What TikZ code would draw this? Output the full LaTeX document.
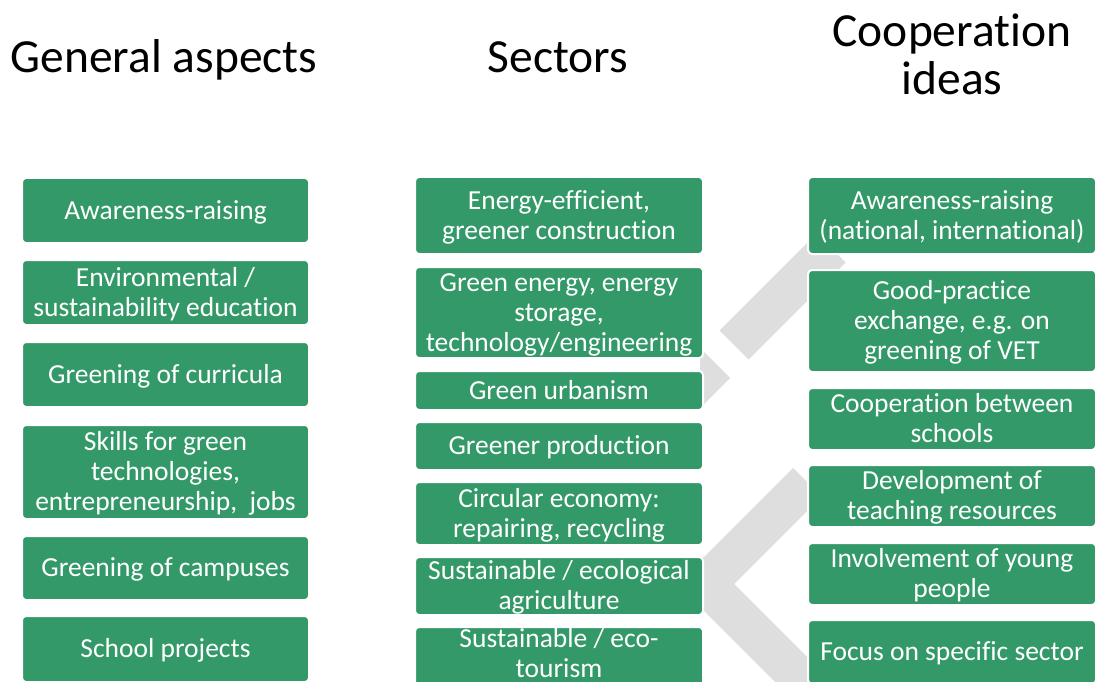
\documentclass[tikz,border=0pt]{standalone}
\usepackage{fontspec}
\setmainfont[Ligatures=NoCommon]{Carlito}
\definecolor{boxgreen}{RGB}{52,153,104}
\definecolor{chev}{RGB}{222,222,222}
\newcommand\tS{\rule{0pt}{0.8em}}
\newcommand\bS{\rule[-0.34em]{0pt}{0.34em}}
\newcommand\bx[1]{\tS#1\bS}
\tikzset{
  box/.style={fill=boxgreen, draw=white, line width=2pt, rounded corners=4pt, inner sep=0pt},
  lcol/.style={box, minimum width=287pt},
  mcol/.style={box, minimum width=288pt},
  rcol/.style={box, minimum width=288pt},
  txt/.style={text=white, align=center, inner sep=0pt, yshift=-2.5pt, font=\fontsize{27.5pt}{30pt}\selectfont},
  heading/.style={text=black, align=center, inner sep=0pt, font=\fontsize{47.5pt}{48pt}\selectfont},
  chevshape/.style={fill=chev}
}
\begin{document}
\begin{tikzpicture}[x=1pt,y=-1pt]
\useasboundingbox (0,0) rectangle (1096,682);
\clip (0,0) rectangle (1096,682);
\fill[white] (0,0) rectangle (1096,682);

% background chevrons
\fill[chevshape] (719.5,330.5) -- (748.5,359.5) -- (845.5,262.5) -- (816.5,233.5) -- cycle;
\fill[chevshape] (700,348) -- (730,378) -- (700,408) -- cycle;
\fill[chevshape] (793,468) -- (677,584) -- (793,700) -- (821.5,671.5) -- (734,584) -- (821.5,496.5) -- cycle;

% headings
\node[heading] (h1) at (164,62) {\bx{General aspects}};
\node[heading] (h2) at (558,62) {\bx{Sectors}};
\node[heading] (h3) at (952,60) {\bx{Cooperation\\ideas}};

% left column
\node[lcol, minimum height=65pt] (l1) at (165.5,210.5) {};
\node[lcol, minimum height=65pt] (l2) at (165.5,292.5) {};
\node[lcol, minimum height=65pt] (l3) at (165.5,374.5) {};
\node[lcol, minimum height=94pt] (l4) at (165.5,472) {};
\node[lcol, minimum height=64pt] (l5) at (165.5,568) {};
\node[lcol, minimum height=66pt] (l6) at (165.5,649) {};
\node[txt] (l1t) at (l1) {\bx{Awareness-raising}};
\node[txt] (l2t) at (l2) {\bx{Environmental /\\sustainability education}};
\node[txt] (l3t) at (l3) {\bx{Greening of curricula}};
\node[txt] (l4t) at (l4) {\bx{Skills for green\\technologies,\\entrepreneurship,\ \ jobs}};
\node[txt] (l5t) at (l5) {\bx{Greening of campuses}};
\node[txt] (l6t) at (l6) {\bx{School projects}};

% middle column
\node[mcol, minimum height=77pt] (m1) at (559,215.5) {};
\node[mcol, minimum height=91pt] (m2) at (559,312.5) {};
\node[mcol, minimum height=39pt] (m3) at (559,390.5) {};
\node[mcol, minimum height=48pt] (m4) at (559,446) {};
\node[mcol, minimum height=63pt] (m5) at (559,513.5) {};
\node[mcol, minimum height=58pt] (m6) at (559,586) {};
\node[mcol, minimum height=60pt] (m7) at (559,657) {};
\node[txt] (m1t) at (m1) {\bx{Energy-efficient,\\greener construction}};
\node[txt] (m2t) at (m2) {\bx{Green energy, energy\\storage,\\technology/engineering}};
\node[txt] (m3t) at (m3) {\bx{Green urbanism}};
\node[txt] (m4t) at (m4) {\bx{Greener production}};
\node[txt] (m5t) at (m5) {\bx{Circular economy:\\repairing, recycling}};
\node[txt] (m6t) at (m6) {\bx{Sustainable / ecological\\agriculture}};
\node[txt] (m7t) at (559,654) {\bx{Sustainable / eco-\\tourism}};

% right column
\node[rcol, minimum height=77pt] (r1) at (952,215.5) {};
\node[rcol, minimum height=102pt] (r2) at (952,321) {};
\node[rcol, minimum height=62pt] (r3) at (952,419) {};
\node[rcol, minimum height=62pt] (r4) at (952,496) {};
\node[rcol, minimum height=62pt] (r5) at (952,574) {};
\node[rcol, minimum height=64pt] (r6) at (952,652) {};
\node[txt] (r1t) at (r1) {\bx{Awareness-raising\\(national, international)}};
\node[txt] (r2t) at (r2) {\bx{Good-practice\\exchange, e.g. on\\greening of VET}};
\node[txt] (r3t) at (r3) {\bx{Cooperation between\\schools}};
\node[txt] (r4t) at (r4) {\bx{Development of\\teaching resources}};
\node[txt] (r5t) at (r5) {\bx{Involvement of young\\people}};
\node[txt] (r6t) at (r6) {\bx{Focus on specific sector}};
\end{tikzpicture}
\end{document}
